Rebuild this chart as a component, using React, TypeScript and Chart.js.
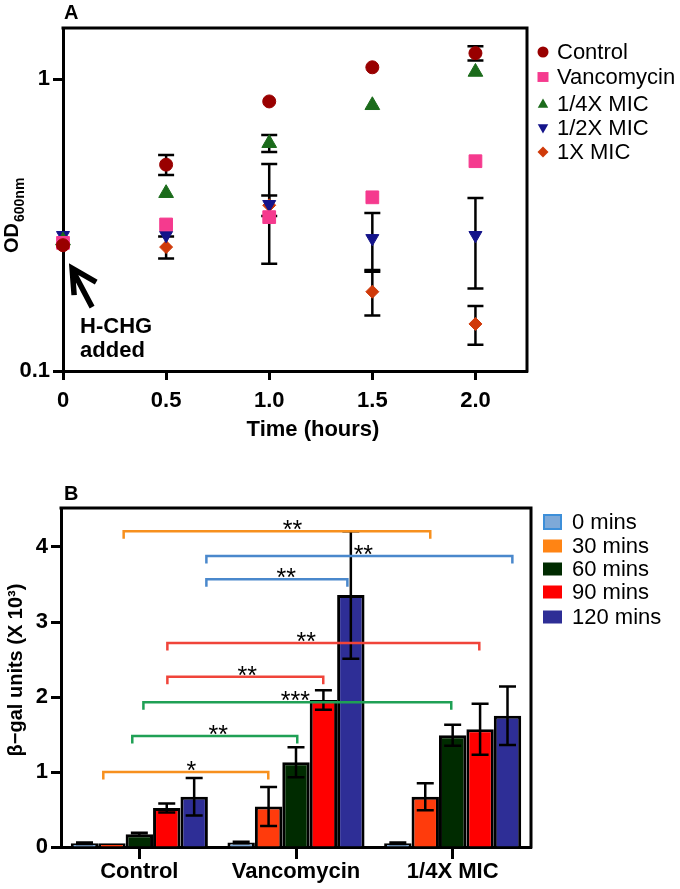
import React, { useEffect, useRef } from 'react';
import { Chart, registerables } from 'chart.js';

Chart.register(...registerables);

const FONT = '"Liberation Sans", Arial, Helvetica, sans-serif';

// ---------- Panel A data ----------
const TIMES = [0, 0.5, 1.0, 1.5, 2.0];
const TIME_TICKS = [0, 0.5, 1.0, 1.5, 2.0];
const TIME_TICK_LABELS = ['0', '0.5', '1.0', '1.5', '2.0'];
const OD_TICKS = [0.1, 1];
const OD_TICK_LABELS = ['0.1', '1'];
const SERIES_A = ['Control', 'Vancomycin', '1/4X MIC', '1/2X MIC', '1X MIC'];
const OD_CONTROL = [0.27, 0.51, 0.84, 1.1, 1.23];
const OD_CONTROL_ERR = [0, 0.04, 0, 0, 0.07];
const OD_VANCO = [0.275, 0.318, 0.337, 0.394, 0.524];
const OD_VANCO_ERR = [0, 0, 0, 0, 0];
const OD_QUARTER = [0.28, 0.407, 0.604, 0.815, 1.06];
const OD_QUARTER_ERR = [0, 0, 0.04, 0, 0];
const OD_HALF = [0.292, 0.292, 0.373, 0.285, 0.292];
const OD_HALF_ERR = [0, 0, 0.14, 0.063, 0.1];
const OD_ONE = [0.27, 0.266, 0.37, 0.187, 0.145];
const OD_ONE_ERR = [0, 0.023, 0.03, 0.032, 0.022];

// ---------- Panel B data ----------
const GROUPS = ['Control', 'Vancomycin', '1/4X MIC'];
const SERIES_B = ['0 mins', '30 mins', '60 mins', '90 mins', '120 mins'];
const GAL_0 = [0.05, 0.06, 0.05];
const GAL_0_ERR = [0.01, 0.01, 0.01];
const GAL_30 = [0.05, 0.54, 0.67];
const GAL_30_ERR = [0, 0.26, 0.18];
const GAL_60 = [0.17, 1.13, 1.49];
const GAL_60_ERR = [0.02, 0.2, 0.14];
const GAL_90 = [0.52, 1.96, 1.57];
const GAL_90_ERR = [0.06, 0.13, 0.34];
const GAL_120 = [0.67, 3.36, 1.75];
const GAL_120_ERR = [0.25, 0.85, 0.39];
const GAL_TICKS = [0, 1, 2, 3, 4];

// significance comparisons (x in group-index units, level in data units)
const SIG_FROM = [-0.1, 0.428, 0.428, 0.179, 0.179, 0.026, -0.045, -0.23];
const SIG_TO = [1.857, 2.381, 1.328, 2.17, 1.174, 1.991, 1.008, 0.823];
const SIG_LEVEL = [4.21, 3.88, 3.57, 2.72, 2.27, 1.93, 1.48, 1.0];
const SIG_TEXT = ['**', '**', '**', '**', '**', '***', '**', '*'];
const SIG_TEXT_AT = [0.977, 1.43, 0.938, 1.066, 0.689, 0.996, 0.504, 0.332];
const SIG_SERIES = [1, 0, 0, 3, 3, 2, 2, 1];

// ---------- styles ----------
const COLORS_A = ['#990000', '#F53A8E', '#1B6B1B', '#14148A', '#D03A0A'];
const STYLES_A: any[] = ['circle', 'rect', 'triangle', 'triangle', 'rectRot'];
const RADII_A = [6.5, 9, 8.5, 7.5, 6.5];
const ROT_A = [0, 0, 0, 180, 0];
const BAR_COLORS = ['#7EA9D8', '#FF3B0C', '#002B00', '#FF0000', '#2E2E96'];
const LEGEND_B_COLORS = ['#7EA9D8', '#FF8414', '#002B00', '#FF0000', '#2E2E96'];
const BRACKET_COLORS = ['#4A88CC', '#F7901E', '#1FA055', '#F0443A', '#2E2E96'];

const tickFont = { family: FONT, size: 22, weight: 'bold' as const };

function drawMarker(ctx: CanvasRenderingContext2D, style: string, rot: number, x: number, y: number, r: number) {
  ctx.beginPath();
  if (style === 'circle') {
    ctx.arc(x, y, r, 0, Math.PI * 2);
  } else if (style === 'rect') {
    ctx.rect(x - r, y - r * 0.9, 2 * r, 1.8 * r);
  } else if (style === 'triangle') {
    const s = rot === 180 ? -1 : 1;
    ctx.moveTo(x, y - s * r);
    ctx.lineTo(x + r * 0.95, y + s * r * 0.7);
    ctx.lineTo(x - r * 0.95, y + s * r * 0.7);
    ctx.closePath();
  } else {
    ctx.moveTo(x, y - r);
    ctx.lineTo(x + r, y);
    ctx.lineTo(x, y + r);
    ctx.lineTo(x - r, y);
    ctx.closePath();
  }
  ctx.fill();
}

const panelAPlugin = {
  id: 'panelA',
  beforeDatasetsDraw(chart: any) {
    const { ctx, chartArea: ca, scales } = chart;
    ctx.save();
    ctx.strokeStyle = '#000';
    ctx.lineWidth = 3;
    ctx.lineCap = 'square';
    ctx.beginPath();
    ctx.moveTo(ca.left, ca.top);
    ctx.lineTo(ca.right, ca.top);
    ctx.lineTo(ca.right, ca.bottom);
    ctx.stroke();
    // error bars
    const vals = [OD_CONTROL, OD_VANCO, OD_QUARTER, OD_HALF, OD_ONE];
    const errs = [OD_CONTROL_ERR, OD_VANCO_ERR, OD_QUARTER_ERR, OD_HALF_ERR, OD_ONE_ERR];
    ctx.lineWidth = 2.5;
    ctx.lineCap = 'butt';
    for (let d = 0; d < vals.length; d++) {
      const meta = chart.getDatasetMeta(d);
      for (let i = 0; i < vals[d].length; i++) {
        const e = errs[d][i];
        if (!e) continue;
        const x = meta.data[i].x;
        const y1 = scales.y.getPixelForValue(vals[d][i] + e);
        const y2 = scales.y.getPixelForValue(vals[d][i] - e);
        ctx.beginPath();
        ctx.moveTo(x, y1);
        ctx.lineTo(x, y2);
        ctx.moveTo(x - 8, y1);
        ctx.lineTo(x + 8, y1);
        ctx.moveTo(x - 8, y2);
        ctx.lineTo(x + 8, y2);
        ctx.stroke();
      }
    }
    ctx.restore();
  },
  afterDraw(chart: any) {
    const { ctx, chartArea: ca, scales } = chart;
    ctx.save();
    ctx.fillStyle = '#000';
    // panel letter
    ctx.font = `bold 20px ${FONT}`;
    ctx.textAlign = 'left';
    ctx.textBaseline = 'alphabetic';
    ctx.fillText('A', ca.left + 1, 19);
    // x title
    ctx.font = `bold 22px ${FONT}`;
    ctx.textAlign = 'center';
    ctx.fillText('Time (hours)', (ca.left + ca.right) / 2 + 18, 436);
    // y title OD600nm
    ctx.save();
    ctx.translate(18, 253);
    ctx.rotate(-Math.PI / 2);
    ctx.textAlign = 'left';
    ctx.font = `bold 20px ${FONT}`;
    ctx.fillText('OD', 0, 0);
    const w = ctx.measureText('OD').width;
    ctx.font = `bold 14px ${FONT}`;
    ctx.fillText('600nm', w + 1, 6);
    ctx.restore();
    // arrow annotation (data coords)
    const px = (x: number) => scales.x.getPixelForValue(x);
    const py = (y: number) => scales.y.getPixelForValue(y);
    ctx.strokeStyle = '#000';
    ctx.lineWidth = 5.5;
    ctx.lineJoin = 'miter';
    ctx.beginPath();
    ctx.moveTo(px(0.054), py(0.182));
    ctx.lineTo(px(0.044), py(0.225));
    ctx.lineTo(px(0.161), py(0.2018));
    ctx.moveTo(px(0.046), py(0.222));
    ctx.lineTo(px(0.141), py(0.1656));
    ctx.stroke();
    ctx.font = `bold 22px ${FONT}`;
    ctx.textAlign = 'left';
    ctx.fillText('H-CHG', px(0.083), py(0.135));
    ctx.fillText('added', px(0.083), py(0.1117));
    // legend
    const rows = [52, 77, 104, 128, 152];
    ctx.font = `22px ${FONT}`;
    ctx.textBaseline = 'middle';
    for (let d = 0; d < SERIES_A.length; d++) {
      ctx.fillStyle = COLORS_A[d];
      drawMarker(ctx, STYLES_A[d], ROT_A[d], 543, rows[d], 5.5);
      ctx.fillStyle = '#000';
      ctx.fillText(SERIES_A[d], 557, rows[d] + 1);
    }
    ctx.restore();
  },
};

const panelBPlugin = {
  id: 'panelB',
  beforeDatasetsDraw(chart: any) {
    const { ctx, chartArea: ca } = chart;
    ctx.save();
    ctx.strokeStyle = '#000';
    ctx.lineWidth = 3;
    ctx.lineCap = 'square';
    ctx.beginPath();
    ctx.moveTo(ca.left, ca.top);
    ctx.lineTo(ca.right, ca.top);
    ctx.lineTo(ca.right, ca.bottom);
    ctx.stroke();
    ctx.restore();
  },
  afterDatasetsDraw(chart: any) {
    const { ctx, scales } = chart;
    const vals = [GAL_0, GAL_30, GAL_60, GAL_90, GAL_120];
    const errs = [GAL_0_ERR, GAL_30_ERR, GAL_60_ERR, GAL_90_ERR, GAL_120_ERR];
    ctx.save();
    ctx.strokeStyle = '#000';
    ctx.lineWidth = 2.5;
    for (let d = 0; d < vals.length; d++) {
      const meta = chart.getDatasetMeta(d);
      for (let i = 0; i < vals[d].length; i++) {
        const e = errs[d][i];
        if (!e) continue;
        const x = meta.data[i].x;
        const y1 = scales.y.getPixelForValue(vals[d][i] + e);
        const y2 = scales.y.getPixelForValue(vals[d][i] - e);
        ctx.beginPath();
        ctx.moveTo(x, y1);
        ctx.lineTo(x, y2);
        ctx.moveTo(x - 8.5, y1);
        ctx.lineTo(x + 8.5, y1);
        ctx.moveTo(x - 8.5, y2);
        ctx.lineTo(x + 8.5, y2);
        ctx.stroke();
      }
    }
    // significance brackets
    for (let k = 0; k < SIG_LEVEL.length; k++) {
      const x1 = scales.x.getPixelForValue(SIG_FROM[k]);
      const x2 = scales.x.getPixelForValue(SIG_TO[k]);
      const y = scales.y.getPixelForValue(SIG_LEVEL[k]);
      const yd = scales.y.getPixelForValue(SIG_LEVEL[k] - 0.1);
      ctx.strokeStyle = BRACKET_COLORS[SIG_SERIES[k]];
      ctx.lineWidth = 2.5;
      ctx.lineJoin = 'miter';
      ctx.beginPath();
      ctx.moveTo(x1, yd);
      ctx.lineTo(x1, y);
      ctx.lineTo(x2, y);
      ctx.lineTo(x2, yd);
      ctx.stroke();
    }
    ctx.fillStyle = '#000';
    ctx.font = `25px ${FONT}`;
    ctx.textAlign = 'center';
    ctx.textBaseline = 'alphabetic';
    for (let k = 0; k < SIG_LEVEL.length; k++) {
      const x = scales.x.getPixelForValue(SIG_TEXT_AT[k]);
      const y = scales.y.getPixelForValue(SIG_LEVEL[k]);
      ctx.fillText(SIG_TEXT[k], x, y + 7);
    }
    ctx.restore();
  },
  afterDraw(chart: any) {
    const { ctx, chartArea: ca } = chart;
    ctx.save();
    ctx.fillStyle = '#000';
    ctx.font = `bold 20px ${FONT}`;
    ctx.textAlign = 'left';
    ctx.textBaseline = 'alphabetic';
    ctx.fillText('B', ca.left + 3, 55);
    // y title
    ctx.save();
    ctx.translate(22, 225);
    ctx.rotate(-Math.PI / 2);
    ctx.textAlign = 'center';
    ctx.font = `bold 20px ${FONT}`;
    ctx.fillText('β−gal units (X 10³)', 0, 0);
    ctx.restore();
    // legend
    const rows = [77, 101, 124, 147, 172];
    ctx.font = `22px ${FONT}`;
    ctx.textBaseline = 'middle';
    for (let d = 0; d < SERIES_B.length; d++) {
      if (d === 0) {
        ctx.fillStyle = LEGEND_B_COLORS[0];
        ctx.fillRect(544, rows[d] - 7, 17, 14);
        ctx.strokeStyle = '#3D8FD9';
        ctx.lineWidth = 2;
        ctx.strokeRect(544, rows[d] - 7, 17, 14);
      } else {
        ctx.fillStyle = LEGEND_B_COLORS[d];
        ctx.fillRect(543, rows[d] - 6.5, 19, 13);
      }
      ctx.fillStyle = '#000';
      ctx.fillText(SERIES_B[d], 572, rows[d] + 1);
    }
    ctx.restore();
  },
};

export default function App() {
  const refA = useRef<HTMLCanvasElement>(null);
  const refB = useRef<HTMLCanvasElement>(null);

  useEffect(() => {
    const valsA = [OD_CONTROL, OD_VANCO, OD_QUARTER, OD_HALF, OD_ONE];
    const chartA = new Chart(refA.current as HTMLCanvasElement, {
      type: 'scatter',
      data: {
        datasets: SERIES_A.map((name, d) => ({
          label: name,
          data: TIMES.map((t, i) => ({ x: t, y: valsA[d][i] })),
          pointStyle: STYLES_A[d],
          pointRadius: RADII_A[d],
          pointRotation: ROT_A[d],
          backgroundColor: COLORS_A[d],
          borderColor: COLORS_A[d],
          borderWidth: 1,
          clip: false as any,
        })),
      },
      options: {
        responsive: false,
        animation: false,
        layout: { padding: { left: 0, right: 153, top: 28, bottom: 0 } },
        plugins: { legend: { display: false }, tooltip: { enabled: false } },
        scales: {
          x: {
            type: 'linear',
            min: 0,
            max: 2.25,
            afterBuildTicks: (s: any) => {
              s.ticks = TIME_TICKS.map((v) => ({ value: v }));
            },
            afterFit: (s: any) => {
              s.height = 74;
            },
            ticks: {
              autoSkip: false,
              maxRotation: 0,
              padding: 8,
              color: '#000',
              font: tickFont,
              callback: (_v: any, i: number) => TIME_TICK_LABELS[i],
            },
            grid: { drawOnChartArea: false, drawTicks: true, tickLength: 9, tickWidth: 3, tickColor: '#000' },
            border: { display: true, width: 3, color: '#000' },
          },
          y: {
            type: 'logarithmic',
            min: 0.1,
            max: 1.5,
            afterBuildTicks: (s: any) => {
              s.ticks = OD_TICKS.map((v) => ({ value: v }));
            },
            afterFit: (s: any) => {
              s.width = 63;
            },
            ticks: {
              autoSkip: false,
              padding: 3,
              color: '#000',
              font: tickFont,
              callback: (_v: any, i: number) => OD_TICK_LABELS[i],
            },
            grid: { drawOnChartArea: false, drawTicks: true, tickLength: 10, tickWidth: 3, tickColor: '#000' },
            border: { display: true, width: 3, color: '#000' },
          },
        },
      },
      plugins: [panelAPlugin],
    });

    const valsB = [GAL_0, GAL_30, GAL_60, GAL_90, GAL_120];
    const chartB = new Chart(refB.current as HTMLCanvasElement, {
      type: 'bar',
      data: {
        labels: GROUPS,
        datasets: SERIES_B.map((name, d) => ({
          label: name,
          data: valsB[d],
          backgroundColor: BAR_COLORS[d],
          borderColor: '#000',
          borderWidth: 3,
          categoryPercentage: 0.875,
          barPercentage: 1,
        })),
      },
      options: {
        responsive: false,
        animation: false,
        layout: { padding: { left: 0, right: 149, top: 63, bottom: 0 } },
        plugins: { legend: { display: false }, tooltip: { enabled: false } },
        scales: {
          x: {
            afterFit: (s: any) => {
              s.height = 42;
            },
            ticks: { autoSkip: false, maxRotation: 0, padding: 0, color: '#000', font: tickFont },
            grid: { offset: false, drawOnChartArea: false, drawTicks: true, tickLength: 12, tickWidth: 3, tickColor: '#000' },
            border: { display: true, width: 3, color: '#000' },
          },
          y: {
            min: 0,
            max: 4.52,
            afterBuildTicks: (s: any) => {
              s.ticks = GAL_TICKS.map((v) => ({ value: v }));
            },
            afterFit: (s: any) => {
              s.width = 61;
            },
            ticks: { autoSkip: false, padding: 3, color: '#000', font: tickFont },
            grid: { drawOnChartArea: false, drawTicks: true, tickLength: 10, tickWidth: 3, tickColor: '#000' },
            border: { display: true, width: 3, color: '#000' },
          },
        },
      },
      plugins: [panelBPlugin],
    });

    return () => {
      chartA.destroy();
      chartB.destroy();
    };
  }, []);

  return (
    <div style={{ position: 'absolute', left: 0, top: 0, width: 680, height: 889, background: '#fff' }}>
      <canvas ref={refA} width={680} height={445} style={{ display: 'block', width: 680, height: 445 }} />
      <canvas ref={refB} width={680} height={444} style={{ display: 'block', width: 680, height: 444 }} />
    </div>
  );
}
